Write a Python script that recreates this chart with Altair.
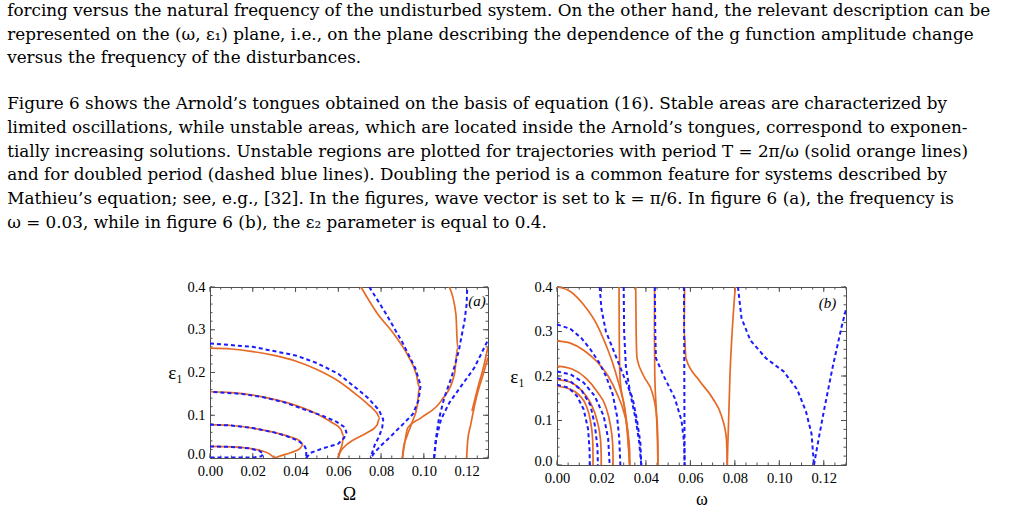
import altair as alt
import pandas as pd

# ---------------- text of the page ----------------
NB = "\u00a0"
PARA1 = [
    "forcing versus the natural frequency of the undisturbed system. On the other hand, the relevant description can be",
    "represented on the (ω, ε₁) plane, i.e., on the plane describing the dependence of the g function amplitude change",
    "versus the frequency of the disturbances.",
]
PARA2 = [
    NB * 6 + "Figure 6 shows the Arnold’s tongues obtained on the basis of equation (16). Stable areas are characterized by",
    "limited oscillations, while unstable areas, which are located inside the Arnold’s tongues, correspond to exponen-",
    "tially increasing solutions. Unstable regions are plotted for trajectories with period T = 2π/ω (solid orange lines)",
    "and for doubled period (dashed blue lines). Doubling the period is a common feature for systems described by",
    "Mathieu’s equation; see, e.g., [32]. In the figures, wave vector is set to k = π/6. In figure 6 (a), the frequency is",
    "ω = 0.03, while in figure 6 (b), the ε₂ parameter is equal to 0.4.",
]

# ---------------- axes ----------------
X_DOMAIN = [0, 0.13]
Y_DOMAIN = [0, 0.4]
X_TICKS = [0.0, 0.02, 0.04, 0.06, 0.08, 0.10, 0.12]
Y_TICKS = [0.0, 0.1, 0.2, 0.3, 0.4]
X_MINOR = [i * 0.005 for i in range(27)]
Y_MINOR = [i * 0.02 for i in range(21)]

# ---------------- panel (a): (Omega, eps1) ----------------
A_T1 = [(0, 0.027), (0.01, 0.026), (0.018, 0.023), (0.024, 0.017), (0.028, 0.009), (0.03, 0.0)]
A_T2 = [(0, 0.078), (0.01, 0.076), (0.02, 0.07), (0.03, 0.06), (0.037, 0.05), (0.042, 0.04),
        (0.0436, 0.031), (0.042, 0.022), (0.038, 0.013), (0.033, 0.005), (0.03, 0.0)]
A_T3 = [(0, 0.155), (0.01, 0.153), (0.02, 0.147), (0.03, 0.137), (0.04, 0.123), (0.05, 0.103),
        (0.057, 0.083), (0.0612, 0.067), (0.0625, 0.052), (0.0618, 0.032), (0.0606, 0.013), (0.06, 0.0)]
A_T4 = [(0, 0.257), (0.01, 0.255), (0.02, 0.249), (0.03, 0.24), (0.04, 0.227), (0.05, 0.207),
        (0.06, 0.18), (0.068, 0.15), (0.074, 0.125), (0.078, 0.105), (0.0794, 0.094), (0.078, 0.076),
        (0.073, 0.058), (0.067, 0.042), (0.063, 0.027), (0.0607, 0.012), (0.06, 0.0)]
A_T5 = [(0.0706, 0.4), (0.078, 0.34), (0.086, 0.29), (0.0925, 0.24), (0.0965, 0.195), (0.0979, 0.165),
        (0.097, 0.125), (0.0948, 0.087), (0.092, 0.05), (0.0905, 0.024), (0.09, 0.0)]
A_T6 = [(0.09, 0.0), (0.0912, 0.04), (0.0925, 0.071), (0.0987, 0.094), (0.108, 0.133), (0.1143, 0.196),
        (0.1158, 0.258), (0.115, 0.336), (0.1119, 0.4)]
A_T7 = [(0.12, 0.0), (0.1205, 0.04), (0.122, 0.08), (0.1245, 0.14), (0.128, 0.2), (0.13, 0.235)]
A_T8 = [(0.1225, 0.11), (0.125, 0.16), (0.128, 0.215), (0.13, 0.26)]

A_2T1 = [(0, 0.027), (0.01, 0.026), (0.018, 0.023), (0.023, 0.017), (0.025, 0.01), (0.024, 0.004),
         (0.021, 0.0015), (0.015, 0.001), (0, 0.001)]
A_2T2 = [(0, 0.078), (0.01, 0.076), (0.02, 0.07), (0.03, 0.06), (0.036, 0.051), (0.041, 0.041),
         (0.044, 0.03), (0.045, 0.02), (0.045, 0.01), (0.045, 0.0)]
A_2T3 = [(0.045, 0.0), (0.047, 0.012), (0.053, 0.023), (0.0599, 0.033), (0.0627, 0.047), (0.0638, 0.06),
         (0.063, 0.072), (0.059, 0.085), (0.052, 0.1), (0.045, 0.112), (0.035, 0.13), (0.025, 0.142),
         (0.015, 0.15), (0, 0.155)]
A_2T4 = [(0, 0.268), (0.02, 0.26), (0.04, 0.24), (0.05, 0.222), (0.06, 0.197), (0.068, 0.165),
         (0.074, 0.14), (0.079, 0.112), (0.081, 0.09), (0.0805, 0.07), (0.079, 0.05), (0.077, 0.03),
         (0.0758, 0.012), (0.0753, 0.0)]
A_2T5 = [(0.0745, 0.4), (0.082, 0.34), (0.09, 0.27), (0.096, 0.21), (0.0985, 0.17), (0.0975, 0.135),
         (0.0949, 0.103), (0.09, 0.078), (0.0846, 0.051), (0.0795, 0.027), (0.0765, 0.01), (0.0753, 0.0)]
A_2T6 = [(0.1048, 0.0), (0.1055, 0.04), (0.107, 0.09), (0.1095, 0.14), (0.113, 0.19), (0.1163, 0.25),
         (0.119, 0.32), (0.12, 0.36), (0.1203, 0.4)]
A_2T7 = [(0.1048, 0.0), (0.1058, 0.045), (0.108, 0.09), (0.112, 0.13), (0.117, 0.165), (0.1236, 0.211),
         (0.13, 0.276)]

# ---------------- panel (b): (omega, eps1) ----------------
B_T1 = [(0, 0.177), (0.005, 0.172), (0.01, 0.157), (0.013, 0.135), (0.015, 0.1), (0.016, 0.06), (0.0162, 0.02), (0.0162, 0.0)]
B_T2 = [(0, 0.192), (0.006, 0.186), (0.011, 0.168), (0.015, 0.14), (0.018, 0.1), (0.0195, 0.06), (0.0199, 0.02), (0.0199, 0.0)]
B_T3 = [(0, 0.222), (0.007, 0.215), (0.013, 0.195), (0.018, 0.165), (0.022, 0.13), (0.024, 0.09), (0.025, 0.05), (0.0252, 0.02), (0.0252, 0.0)]
B_T4 = [(0, 0.279), (0.006, 0.274), (0.012, 0.258), (0.018, 0.232), (0.023, 0.2), (0.027, 0.16), (0.03, 0.12), (0.032, 0.07), (0.0327, 0.03), (0.0327, 0.0)]
B_T5 = [(0, 0.4), (0.006, 0.39), (0.012, 0.36), (0.018, 0.315), (0.022, 0.27), (0.025, 0.23), (0.0274, 0.19), (0.029, 0.16), (0.031, 0.11), (0.032, 0.06), (0.0327, 0.0)]
B_T6 = [(0.0279, 0.4), (0.028, 0.3), (0.0282, 0.22), (0.0285, 0.185), (0.03, 0.14), (0.0315, 0.08), (0.0327, 0.0)]
B_T7 = [(0.0354, 0.4), (0.0356, 0.3), (0.036, 0.24), (0.039, 0.2), (0.043, 0.16), (0.045, 0.1), (0.0454, 0.04), (0.0454, 0.0)]
B_T8 = [(0.0439, 0.4), (0.0438, 0.3), (0.044, 0.2), (0.0447, 0.12), (0.0452, 0.05), (0.0454, 0.0)]
B_T9 = [(0.0574, 0.4), (0.0572, 0.3), (0.058, 0.24), (0.064, 0.19), (0.07, 0.15), (0.074, 0.11), (0.0762, 0.06), (0.0766, 0.0)]
B_T10 = [(0.0802, 0.4), (0.0788, 0.3), (0.0778, 0.2), (0.0772, 0.1), (0.0768, 0.04), (0.0766, 0.0)]

B_2T1 = [(0, 0.18), (0.005, 0.174), (0.009, 0.155), (0.012, 0.125), (0.014, 0.08), (0.0147, 0.03), (0.0147, 0.0)]
B_2T2 = [(0, 0.195), (0.006, 0.188), (0.011, 0.168), (0.015, 0.135), (0.017, 0.09), (0.0182, 0.04), (0.0184, 0.0)]
B_2T3 = [(0, 0.21), (0.006, 0.204), (0.012, 0.185), (0.017, 0.155), (0.021, 0.11), (0.023, 0.06), (0.0237, 0.0)]
B_2T4 = [(0, 0.316), (0.006, 0.306), (0.011, 0.285), (0.015, 0.26), (0.019, 0.23), (0.022, 0.2), (0.025, 0.16), (0.027, 0.11), (0.028, 0.06), (0.0285, 0.0)]
B_2T5 = [(0.0192, 0.4), (0.02, 0.35), (0.022, 0.3), (0.026, 0.25), (0.03, 0.2), (0.034, 0.15), (0.036, 0.1), (0.0375, 0.05), (0.0379, 0.0)]
B_2T6 = [(0.03, 0.4), (0.0302, 0.3), (0.031, 0.22), (0.033, 0.16), (0.0355, 0.1), (0.037, 0.05), (0.0379, 0.0)]
B_2T7 = [(0.044, 0.4), (0.0442, 0.3), (0.0445, 0.24), (0.048, 0.2), (0.053, 0.15), (0.056, 0.1), (0.0572, 0.05), (0.0574, 0.0)]
B_2T8 = [(0.0571, 0.4), (0.0572, 0.3), (0.0573, 0.15), (0.0574, 0.0)]
B_2T9 = [(0.0814, 0.4), (0.083, 0.33), (0.087, 0.28), (0.094, 0.24), (0.102, 0.21), (0.108, 0.17), (0.112, 0.12), (0.1145, 0.07), (0.1156, 0.0)]
B_2T10 = [(0.1156, 0.0), (0.117, 0.04), (0.12, 0.12), (0.124, 0.22), (0.128, 0.31), (0.13, 0.35)]

A_SOLID = [A_T1, A_T2, A_T3, A_T4, A_T5, A_T6, A_T7, A_T8]
A_DASH = [A_2T1, A_2T2, A_2T3, A_2T4, A_2T5, A_2T6, A_2T7]
B_SOLID = [B_T1, B_T2, B_T3, B_T4, B_T5, B_T6, B_T7, B_T8, B_T9, B_T10]
B_DASH = [B_2T1, B_2T2, B_2T3, B_2T4, B_2T5, B_2T6, B_2T7, B_2T8, B_2T9, B_2T10]

ORANGE = "#e66a26"
BLUE = "#1b1bff"
FRAME = "#505050"
SERIF = "Liberation Serif"
TEXT_FONT = "DejaVu Serif"


def curves_frame(curves):
    rows = []
    for c, pts in enumerate(curves):
        for i, (x, y) in enumerate(pts):
            rows.append({"curve": c, "i": i, "x": x, "y": y})
    return pd.DataFrame(rows)


def ticks_frame(w, h):
    dx = (X_DOMAIN[1] - X_DOMAIN[0]) / w
    dy = (Y_DOMAIN[1] - Y_DOMAIN[0]) / h
    rows = []
    for vals, L in ((X_TICKS, 5), (X_MINOR, 2.5)):
        for v in vals:
            rows.append({"x": v, "x2": v, "y": 0, "y2": L * dy})
            rows.append({"x": v, "x2": v, "y": Y_DOMAIN[1], "y2": Y_DOMAIN[1] - L * dy})
    for vals, L in ((Y_TICKS, 5), (Y_MINOR, 2.5)):
        for v in vals:
            rows.append({"y": v, "y2": v, "x": 0, "x2": L * dx})
            rows.append({"y": v, "y2": v, "x": X_DOMAIN[1], "x2": X_DOMAIN[1] - L * dx})
    return pd.DataFrame(rows)


def panel(solid, dashed, w, h, xtitle, tag, tag_xy, ytitle_x, xtitle_pad):
    xs = alt.Scale(domain=X_DOMAIN, nice=False, zero=False)
    ys = alt.Scale(domain=Y_DOMAIN, nice=False, zero=False)
    xax = alt.Axis(values=X_TICKS, format=".2f", title=xtitle, ticks=False, domain=False,
                   grid=False, labelPadding=6, titlePadding=xtitle_pad, titleFontSize=18,
                   labelFlush=False)
    yax = alt.Axis(values=Y_TICKS, format=".1f", title="ε₁", ticks=False, domain=False,
                   grid=False, labelPadding=5, titleAngle=0, titleX=ytitle_x, titleY=h / 2,
                   titleAlign="center", titleBaseline="middle", titleFontSize=19,
                   labelFlush=False,
                   labelBaseline={"condition": {"test": "datum.value === 0", "value": "alphabetic"},
                                  "value": "middle"})
    base_x = alt.X("x:Q", scale=xs, axis=xax)
    base_y = alt.Y("y:Q", scale=ys, axis=yax)

    ticks = alt.Chart(ticks_frame(w, h)).mark_rule(color=FRAME, strokeWidth=1).encode(
        x=alt.X("x:Q", scale=xs, axis=xax), x2="x2:Q",
        y=alt.Y("y:Q", scale=ys, axis=yax), y2="y2:Q")
    orange = alt.Chart(curves_frame(solid)).mark_line(
        color=ORANGE, strokeWidth=1.7, clip=True, interpolate="monotone").encode(
        x=base_x, y=base_y, detail="curve:N", order="i:Q")
    blue = alt.Chart(curves_frame(dashed)).mark_line(
        color=BLUE, strokeWidth=2, strokeDash=[4, 3], clip=True).encode(
        x=base_x, y=base_y, detail="curve:N", order="i:Q")
    label = alt.Chart(pd.DataFrame({"x": [tag_xy[0]], "y": [tag_xy[1]], "t": [tag]})).mark_text(
        align="right", baseline="top", font=SERIF, fontSize=15, fontStyle="italic", color="black").encode(
        x=alt.X("x:Q", scale=xs), y=alt.Y("y:Q", scale=ys), text="t:N")
    return alt.layer(ticks, orange, blue, label).properties(width=w, height=h)


pa = panel(A_SOLID, A_DASH, 278, 171, "Ω", "(a)", (0.129, 0.383), -35, 8)
pb = panel(B_SOLID, B_DASH, 289, 178, "ω", "(b)", (0.1256, 0.38), -40, 6)

chart = alt.hconcat(pa, pb, spacing=20).properties(
    padding={"left": 7, "top": 3, "right": 2, "bottom": 2},
    title=alt.TitleParams(
        text=PARA1, subtitle=PARA2, anchor="start", dx=-160,
        font=TEXT_FONT, fontSize=16.8, fontWeight="normal", color="black", lineHeight=23.7,
        subtitleFont=TEXT_FONT, subtitleFontSize=16.8, subtitleColor="black", subtitleLineHeight=23.7,
        subtitlePadding=29, offset=47),
).configure_view(stroke=FRAME, strokeWidth=1).configure_axis(
    labelFont=SERIF, labelFontSize=14.5, labelColor="black",
    titleFont=SERIF, titleFontWeight="normal", titleColor="black")

chart.save("out.html", embed_options={"renderer": "svg", "actions": False})
